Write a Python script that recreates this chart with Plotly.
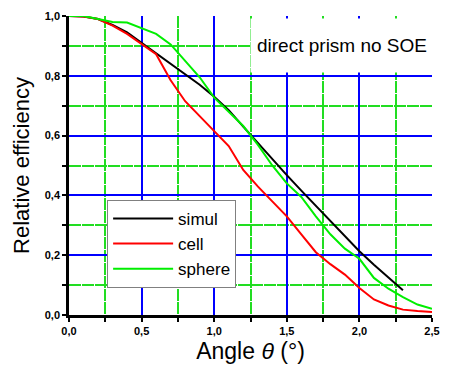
import plotly.graph_objects as go

# ---- data ----
angle = [0.0, 0.1, 0.2, 0.3, 0.4, 0.5, 0.6, 0.7, 0.8, 0.9, 1.0, 1.1, 1.2,
         1.3, 1.4, 1.5, 1.6, 1.7, 1.8, 1.9, 2.0, 2.1, 2.2, 2.3, 2.4, 2.5]

simul = [1.0, 0.998, 0.99, 0.97, 0.945, 0.91, 0.875, 0.84, 0.805, 0.77,
         0.73, 0.685, 0.63, 0.575, 0.52, 0.468, 0.416, 0.365, 0.312, 0.262,
         0.213, 0.168, 0.125, 0.083]

cell = [1.0, 0.998, 0.99, 0.968, 0.94, 0.905, 0.872, 0.785, 0.715, 0.665,
        0.615, 0.565, 0.485, 0.43, 0.38, 0.33, 0.27, 0.21, 0.17, 0.135,
        0.09, 0.052, 0.032, 0.018, 0.013, 0.01]

sphere = [1.0, 1.0, 0.99, 0.98, 0.978, 0.96, 0.94, 0.905, 0.85, 0.795,
          0.727, 0.68, 0.632, 0.57, 0.5, 0.44, 0.395, 0.33, 0.27, 0.222,
          0.188, 0.124, 0.088, 0.06, 0.035, 0.021]

series_names = ["simul", "cell", "sphere"]
series_colors = ["#000000", "#ff0000", "#00ee00"]
annotation_text = "direct prism no SOE"

FONT = "Liberation Sans, Arial, sans-serif"

fig = go.Figure()
for name, vals, col in zip(series_names, [simul, cell, sphere], series_colors):
    fig.add_trace(go.Scatter(
        x=angle[:len(vals)], y=vals, mode="lines", name=name,
        line=dict(color=col, width=2),
    ))

axis_common = dict(
    showline=True, linecolor="black", linewidth=2.5,
    ticks="outside", ticklen=4, tickwidth=1.5, tickcolor="black",
    showgrid=True, gridcolor="#0000ff", gridwidth=1.5,
    zeroline=False, mirror=False, automargin=False,
    tickfont=dict(family=FONT, size=11, color="black", weight="bold"),
    tickformat=".1f",
)

minor_common = dict(showgrid=True, gridcolor="#22dd22", gridwidth=1.5,
                    griddash="12px,1px", ticks="outside", ticklen=4,
                    tickcolor="black", tickwidth=1.5)

fig.update_xaxes(
    **axis_common,
    range=[0, 2.5], dtick=0.5, tick0=0,
    minor=dict(dtick=0.25, **minor_common),
    title=dict(text="Angle <i>θ</i> (°)", font=dict(family=FONT, size=23, color="black"), standoff=7),
)
fig.update_yaxes(
    **axis_common,
    range=[0, 1.0], dtick=0.2, tick0=0,
    minor=dict(dtick=0.1, **minor_common),
    title=dict(text="Relative efficiency", font=dict(family=FONT, size=22, color="black"), standoff=10),
)

fig.add_annotation(
    xref="paper", yref="paper", x=0.4986, y=0.993, xanchor="left", yanchor="top",
    text=annotation_text, showarrow=False, align="center",
    width=182, height=53, bgcolor="white", borderpad=0,
    font=dict(family=FONT, size=19, color="black"),
)

fig.update_layout(
    width=450, height=374,
    margin=dict(l=61, r=26, t=8, b=67),
    paper_bgcolor="white", plot_bgcolor="white",
    separators=", ",
    showlegend=True,
    legend=dict(
        x=0.105, y=0.385, xanchor="left", yanchor="top",
        bgcolor="white", bordercolor="#808080", borderwidth=1,
        font=dict(family=FONT, size=17, color="black"),
        tracegroupgap=0, itemwidth=60,
    ),
)

fig.write_html("out.html")
